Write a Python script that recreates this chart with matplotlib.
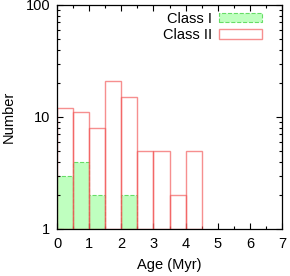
import numpy as np
import matplotlib
matplotlib.use('Agg')
import matplotlib.pyplot as plt
from matplotlib.patches import Patch
from matplotlib.ticker import MultipleLocator, LogLocator, NullFormatter

plt.rcParams['font.family'] = ['Liberation Sans', 'DejaVu Sans']

# histogram bins (left edges, Myr)
bin_left = [0.0, 0.5, 1.0, 1.5, 2.0, 2.5, 3.0, 3.5, 4.0]
bin_width = 0.5
class1 = [3, 4, 2, 0, 2, 0, 0, 0, 0]
class2 = [12, 11, 8, 21, 15, 5, 5, 2, 5]

fig = plt.figure(figsize=(2.90, 2.76), dpi=100)
ax = fig.add_axes([0.1966, 0.1703, 0.7758, 0.8116])
ax.set_yscale('log')

c1 = np.array(class1, dtype=float)
c2 = np.array(class2, dtype=float)
x = np.array(bin_left)
red = (0.95, 0.33, 0.33, 0.65)

m1 = c1 > 0
ax.bar(x[m1], c1[m1] - 1, width=bin_width, bottom=1, align='edge',
       color='#bfffbf', edgecolor='#66dd66', linestyle='--', linewidth=0.8, zorder=1)
ax.bar(x, c2 - 1, width=bin_width, bottom=1, align='edge', fill=False,
       edgecolor=red, linewidth=1.0, zorder=2)

ax.set_xlim(0, 7)
ax.set_ylim(1, 100)
ax.xaxis.set_major_locator(MultipleLocator(1))
ax.xaxis.set_minor_locator(MultipleLocator(0.5))
ax.yaxis.set_minor_locator(LogLocator(base=10, subs=np.arange(2, 10)))
ax.yaxis.set_minor_formatter(NullFormatter())
ax.set_yticks([1, 10, 100])
ax.set_yticklabels(['1', '10', '100'])

ax.tick_params(which='both', direction='in', top=True, right=True, labelsize=10.5)
ax.tick_params(which='major', length=4, width=0.8)
ax.tick_params(which='minor', length=2.5, width=0.8)
ax.tick_params(axis='x', pad=6)
ax.tick_params(axis='y', pad=5)
for s in ax.spines.values():
    s.set_linewidth(0.9)

ax.set_xlabel('Age (Myr)', fontsize=10.5, labelpad=5)
ax.set_ylabel('Number', fontsize=10.5, labelpad=7)

handles = [Patch(facecolor='#bfffbf', edgecolor='#66dd66', linestyle='--', linewidth=0.8, label='Class I'),
           Patch(facecolor='none', edgecolor=red, linewidth=1.0, label='Class II')]
ax.legend(handles=handles, loc='upper right', bbox_to_anchor=(0.935, 0.995), frameon=False,
          markerfirst=False, fontsize=10.5, handlelength=2.9, handleheight=0.6,
          labelspacing=0.15, borderaxespad=0.0, handletextpad=0.5)

fig.savefig('out.png', dpi=100)
